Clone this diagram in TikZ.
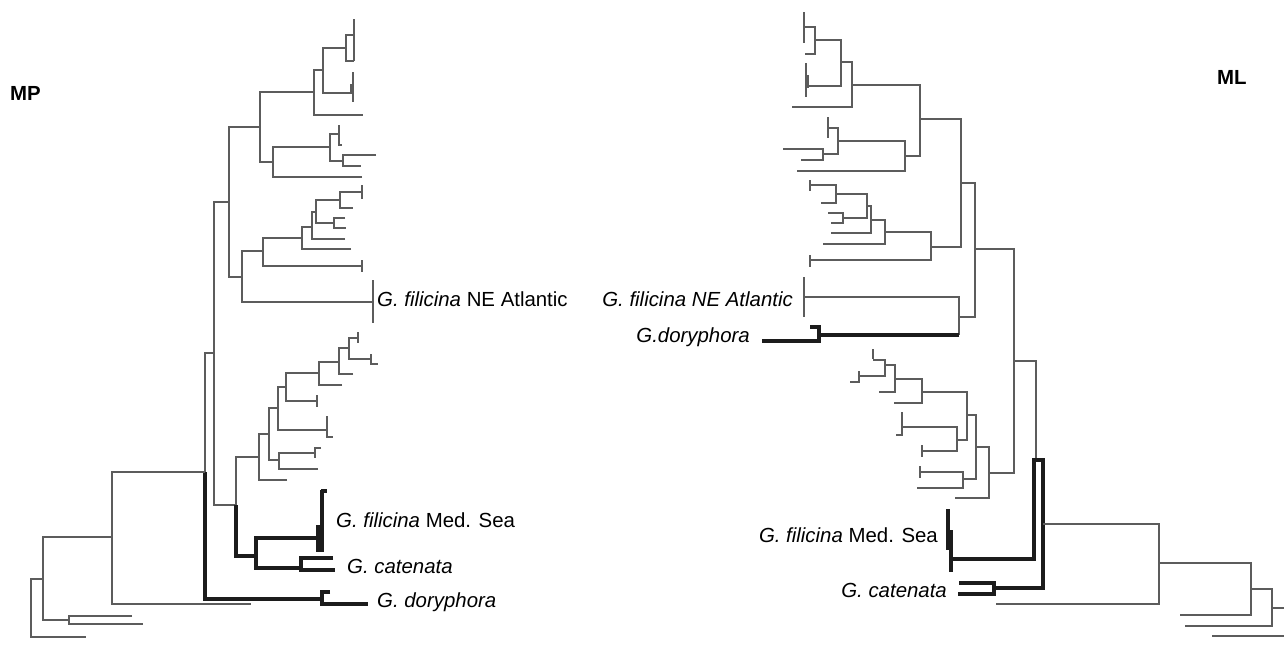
\documentclass[tikz,border=0pt]{standalone}
\usepackage{fontspec}
\setmainfont{Liberation Sans}
\definecolor{treegray}{RGB}{92,92,92}
\definecolor{treeblack}{RGB}{28,28,28}
\begin{document}
\begin{tikzpicture}[x=1pt,y=-1pt,
  gb/.style={draw=treegray,line width=2.8pt},
  bb/.style={draw=treeblack,line width=4.2pt},
  lab/.style={font=\fontsize{20.4}{24}\selectfont,inner sep=0pt}]
\useasboundingbox (0,0) rectangle (1284,649);

% ---------------- MP tree (root at left) ----------------
% upper clade
\draw[gb] (354,19)--(354,61);
\draw[gb] (354,35)--(346,35)--(346,61)--(354,61);
\draw[gb] (346,48)--(323,48)--(323,93)--(352,93);
\draw[gb] (353,72)--(353,102);
\draw[gb] (351,84)--(351,94);
\draw[gb] (323,70)--(314,70)--(314,115)--(363,115);
\draw[gb] (314,92)--(260,92)--(260,162)--(273,162);
\draw[gb] (362,177)--(273,177)--(273,147)--(330,147);
\draw[gb] (339,125)--(339,145)--(342,145);
\draw[gb] (339,134)--(330,134)--(330,161)--(343,161);
\draw[gb] (376,155)--(343,155)--(343,166)--(361,166);
\draw[gb] (260,127)--(229,127)--(229,277)--(242,277);
% NE Atlantic clade
\draw[gb] (373,302)--(242,302)--(242,251)--(263,251);
\draw[gb] (373,280)--(373,323);
\draw[gb] (362,266)--(263,266)--(263,238)--(302,238);
\draw[gb] (362,260)--(362,272);
\draw[gb] (351,249)--(302,249)--(302,227)--(312,227);
\draw[gb] (345,239)--(312,239)--(312,212)--(316,212);
\draw[gb] (340,200)--(316,200)--(316,223)--(334,223);
\draw[gb] (345,218)--(334,218)--(334,228)--(346,228);
\draw[gb] (362,192)--(340,192)--(340,208)--(353,208);
\draw[gb] (362,185)--(362,199);
% spine
\draw[gb] (229,202)--(214,202)--(214,505)--(236,505);
\draw[gb] (214,353)--(205,353)--(205,472);
% lower grey clade
\draw[gb] (236,505)--(236,457)--(259,457);
\draw[gb] (287,480)--(259,480)--(259,434)--(269,434);
\draw[gb] (278,408)--(269,408)--(269,460)--(279,460);
\draw[gb] (318,469)--(279,469)--(279,453)--(315,453);
\draw[gb] (321,448)--(315,448)--(315,458);
\draw[gb] (327,430)--(278,430)--(278,387)--(286,387);
\draw[gb] (327,416)--(327,437)--(333,437);
\draw[gb] (317,401)--(286,401)--(286,373)--(319,373);
\draw[gb] (317,395)--(317,407);
\draw[gb] (342,385)--(319,385)--(319,362)--(339,362);
\draw[gb] (353,374)--(339,374)--(339,348)--(349,348);
\draw[gb] (358,338)--(349,338)--(349,359)--(371,359);
\draw[gb] (358,332)--(358,343);
\draw[gb] (371,354)--(371,364)--(378,364);
% highlighted lineages
\draw[bb] (205,472)--(205,599)--(322,599);
\draw[bb] (330,592)--(322,592)--(322,604)--(368,604);
\draw[bb] (236,505)--(236,556)--(256,556);
\draw[bb] (318,538)--(256,538)--(256,568)--(301,568);
\draw[bb] (333,558)--(301,558)--(301,570)--(335,570);
\draw[bb] (322,490)--(322,552);
\draw[bb] (318,525)--(318,552);
\draw[bb] (321,491)--(327,491);
% outgroups
\draw[gb] (205,472)--(112,472)--(112,604)--(251,604);
\draw[gb] (112,537)--(43,537)--(43,620)--(69,620);
\draw[gb] (132,616)--(69,616)--(69,624)--(143,624);
\draw[gb] (43,579)--(31,579)--(31,637)--(86,637);

% ---------------- ML tree (root at right) ----------------
\draw[gb] (804,12)--(804,43);
\draw[gb] (804,27)--(815,27)--(815,54)--(805,54);
\draw[gb] (815,40)--(841,40)--(841,86)--(806,86);
\draw[gb] (806,63)--(806,97);
\draw[gb] (808,75)--(808,88);
\draw[gb] (841,62)--(852,62)--(852,107)--(792,107);
\draw[gb] (852,85)--(920,85)--(920,156)--(905,156);
\draw[gb] (797,171)--(905,171)--(905,141)--(838,141);
\draw[gb] (828,128)--(838,128)--(838,154)--(823,154);
\draw[gb] (828,117)--(828,138);
\draw[gb] (783,149)--(823,149)--(823,160)--(801,160);
\draw[gb] (920,119)--(961,119)--(961,247)--(931,247);
\draw[gb] (810,260)--(931,260)--(931,232)--(885,232);
\draw[gb] (810,255)--(810,267);
\draw[gb] (823,244)--(885,244)--(885,220)--(871,220);
\draw[gb] (831,233)--(871,233)--(871,206)--(867,206);
\draw[gb] (836,194)--(867,194)--(867,218)--(843,218);
\draw[gb] (828,213)--(843,213)--(843,223)--(831,223);
\draw[gb] (810,185)--(836,185)--(836,203)--(821,203);
\draw[gb] (810,180)--(810,191);
\draw[gb] (961,183)--(975,183)--(975,317)--(959,317);
\draw[gb] (804,297)--(959,297)--(959,335);
\draw[gb] (804,277)--(804,317);
\draw[bb] (959,335)--(819,335);
\draw[bb] (810,327)--(819,327)--(819,341)--(762,341);
\draw[gb] (975,249)--(1014,249)--(1014,473)--(989,473);
\draw[gb] (955,498)--(989,498)--(989,447)--(976,447);
\draw[gb] (963,479)--(976,479)--(976,415)--(967,415);
\draw[gb] (917,488)--(963,488)--(963,472)--(920,472);
\draw[gb] (920,466)--(920,478);
\draw[gb] (957,440)--(967,440)--(967,392)--(922,392);
\draw[gb] (922,451)--(957,451)--(957,427)--(902,427);
\draw[gb] (922,445)--(922,457);
\draw[gb] (902,412)--(902,435)--(896,435);
\draw[gb] (894,403)--(922,403)--(922,379)--(895,379);
\draw[gb] (879,392)--(895,392)--(895,365)--(885,365);
\draw[gb] (873,360)--(885,360)--(885,376)--(859,376);
\draw[gb] (873,349)--(873,359);
\draw[gb] (859,371)--(859,382)--(850,382);
\draw[gb] (1014,361)--(1036,361)--(1036,460);
\draw[bb] (949,559)--(1034,559)--(1034,460)--(1043,460)--(1043,588)--(994,588);
\draw[bb] (948,509)--(948,550);
\draw[bb] (951,530)--(951,572);
\draw[bb] (959,583)--(994,583)--(994,594)--(958,594);
\draw[gb] (1043,524)--(1159,524)--(1159,604)--(996,604);
\draw[gb] (1159,563)--(1251,563)--(1251,615)--(1180,615);
\draw[gb] (1251,589)--(1272,589)--(1272,626)--(1185,626);
\draw[gb] (1272,608)--(1290,608);
\draw[gb] (1212,636)--(1290,636);

% ---------------- labels ----------------
\node[lab,anchor=base west] (mp) at (10,100) {\bfseries MP};
\node[lab,anchor=base west] (ml) at (1217,84) {\bfseries ML};
\node[lab,anchor=base west] (lneat) at (377,306) {\textit{G. filicina} NE Atlantic};
\node[lab,anchor=base west] (lmed) at (336,527) {\textit{G. filicina} Med. Sea};
\node[lab,anchor=base west] (lcat) at (347,573) {\textit{G. catenata}};
\node[lab,anchor=base west] (ldor) at (377,607) {\textit{G. doryphora}};
\node[lab,anchor=base east] (rneat) at (793,306) {\textit{G. filicina NE Atlantic}};
\node[lab,anchor=base east] (rdor) at (750,342) {\textit{G.doryphora}};
\node[lab,anchor=base east] (rmed) at (938,542) {\textit{G. filicina} Med. Sea};
\node[lab,anchor=base east] (rcat) at (947,597) {\textit{G. catenata}};
\end{tikzpicture}
\end{document}
